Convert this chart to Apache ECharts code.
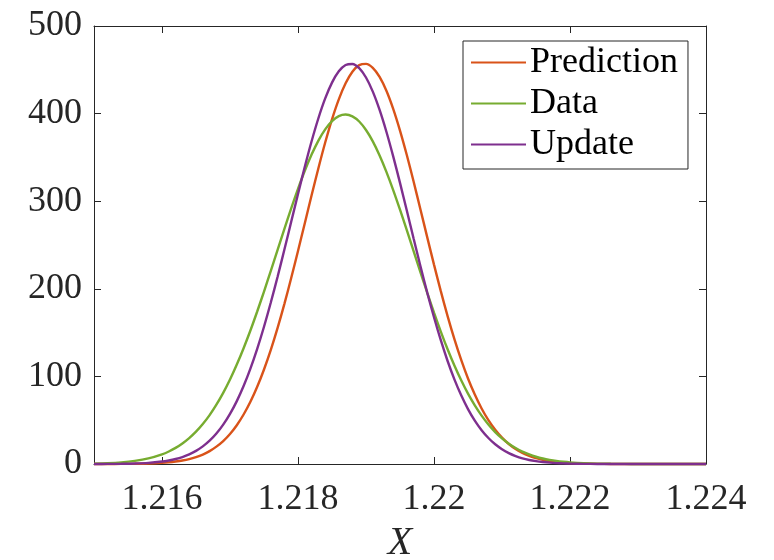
<!DOCTYPE html>
<html>
<head>
<meta charset="utf-8">
<script src="https://cdn.jsdelivr.net/npm/echarts@6/dist/echarts.min.js"></script>
<style>html,body{margin:0;padding:0;background:#fff;}#c{width:774px;height:560px;}</style>
</head>
<body>
<div id="c"></div>
<script>
const xs = [1.2150,1.2152,1.2154,1.2156,1.2158,
  1.2160,1.2161,1.2162,1.2163,1.2164,1.2165,1.2166,1.2167,1.2168,1.2169,
  1.2170,1.2171,1.2172,1.2173,1.2174,1.2175,1.2176,1.2177,1.2178,1.2179,
  1.2180,1.2181,1.2182,1.2183,1.2184,1.2185,1.2186,1.2187,1.2188,1.2189,
  1.2190,1.2191,1.2192,1.2193,1.2194,1.2195,1.2196,1.2197,1.2198,1.2199,
  1.2200,1.2201,1.2202,1.2203,1.2204,1.2205,1.2206,1.2207,1.2208,1.2209,
  1.2210,1.2211,1.2212,1.2213,1.2214,1.2215,1.2216,1.2217,1.2218,1.2219,
  1.2220,1.2222,1.2224,1.2226,1.2228,1.2230,1.2232,1.2234,1.2236,1.2238,1.2240];
const prediction = [0.01,0.04,0.1,0.24,0.57,
  1.3,1.9,2.8,3.96,5.6,7.85,10.8,14.7,19.8,26.2,
  34.3,44.3,56.5,71.0,88.1,107.9,130.3,155.4,182.8,212.3,
  243.2,274.9,306.8,337.7,367.0,393.5,416.3,434.6,447.8,455.3,
  456.8,452.3,441.9,426.1,405.4,380.6,352.7,322.4,290.9,259.0,
  227.6,197.3,168.8,142.5,118.8,97.6,79.3,63.4,50.1,39.1,
  30.1,22.8,17.1,12.6,9.2,6.6,4.7,3.3,2.3,1.56,
  1.05,0.46,0.19,0.07,0.03,0.01,0,0,0,0,0];
const dataVals = [0.47,0.96,1.88,3.53,6.36,
  11.05,14.3,18.4,23.5,29.6,36.9,45.6,55.8,67.7,81.2,
  96.4,113.5,132.2,152.4,174.1,196.9,220.4,244.4,268.3,291.7,
  314.0,334.7,353.2,369.2,382.0,391.5,397.2,399.0,396.9,391.0,
  381.3,368.3,352.2,333.5,312.7,290.3,266.9,243.0,219.0,195.5,
  172.8,151.2,131.0,112.4,95.5,80.3,66.9,55.2,45.1,36.4,
  29.2,23.1,18.2,14.1,10.9,8.3,6.26,4.7,3.46,2.54,
  1.84,0.94,0.46,0.22,0.10,0.04,0.02,0.01,0,0,0];
const update = [0.04,0.1,0.24,0.58,1.3,
  2.8,4.03,5.7,7.97,11.0,15.0,20.1,26.6,34.8,44.9,
  57.2,71.8,89.0,108.9,131.5,156.7,184.3,213.8,244.8,276.5,
  308.3,339.3,368.4,394.7,417.3,435.4,448.3,455.5,456.7,451.9,
  441.2,425.1,404.2,379.3,351.2,320.9,289.3,257.4,226.0,195.8,
  167.5,141.3,117.6,96.6,78.4,62.7,49.5,38.6,29.7,22.5,
  16.9,12.4,9.1,6.5,4.6,3.25,2.25,1.53,1.03,0.69,
  0.45,0.19,0.07,0.03,0.01,0,0,0,0,0,0];
const xTicks = [1.216,1.218,1.22,1.222,1.224];
const seriesNames = ['Prediction','Data','Update'];

const axisColor = '#262626';
const font = 'Liberation Serif';
const pairs = arr => xs.map((x,i)=>[x,arr[i]]);

const chart = echarts.init(document.getElementById('c'), null, {renderer:'canvas'});
const xBase = {
  type:'value', min:1.215, max:1.224,
  axisLine:{show:true, onZero:false, lineStyle:{color:axisColor, width:1}},
  splitLine:{show:false},
  axisTick:{show:true, inside:true, length:7, customValues:xTicks, lineStyle:{color:axisColor}},
};
const yBase = {
  type:'value', min:0, max:500, interval:100,
  axisLine:{show:true, onZero:false, lineStyle:{color:axisColor, width:1}},
  splitLine:{show:false},
  axisTick:{show:true, inside:true, length:7, lineStyle:{color:axisColor}},
};
chart.setOption({
  animation:false,
  backgroundColor:'#fff',
  grid:{left:94, right:68, top:26, bottom:96, containLabel:false, outerBoundsMode:'none'},
  xAxis:[
    Object.assign({}, xBase, {
      position:'bottom',
      axisLabel:{show:true, customValues:xTicks, margin:18, color:axisColor, fontFamily:font, fontSize:36,
        formatter:v=>String(+v.toFixed(3))},
      name:'X', nameLocation:'middle', nameGap:59,
      nameTextStyle:{color:axisColor, fontFamily:font, fontSize:40, fontStyle:'italic'}
    }),
    Object.assign({}, xBase, {position:'top', axisLabel:{show:false}})
  ],
  yAxis:[
    Object.assign({}, yBase, {
      position:'left',
      axisLabel:{show:true, margin:12, color:axisColor, fontFamily:font, fontSize:36}
    }),
    Object.assign({}, yBase, {position:'right', axisLabel:{show:false}})
  ],
  legend:{
    data:seriesNames, orient:'vertical', left:463, top:41,
    padding:[1,10,4,8], itemGap:0, itemWidth:55, itemHeight:2, icon:'rect',
    backgroundColor:'#fff', borderColor:axisColor, borderWidth:1, borderRadius:0,
    textStyle:{color:'#000', fontFamily:font, fontSize:36, lineHeight:41, padding:[0,0,0,-1]}
  },
  series:[
    {name:'Prediction', type:'line', data:pairs(prediction), smooth:0.3, showSymbol:false, clip:false,
      lineStyle:{color:'#D95319', width:2.4}, itemStyle:{color:'#D95319'}},
    {name:'Data', type:'line', data:pairs(dataVals), smooth:0.3, showSymbol:false, clip:false,
      lineStyle:{color:'#77AC30', width:2.4}, itemStyle:{color:'#77AC30'}},
    {name:'Update', type:'line', data:pairs(update), smooth:0.3, showSymbol:false, clip:false,
      lineStyle:{color:'#7E2F8E', width:2.4}, itemStyle:{color:'#7E2F8E'}}
  ]
});
</script>
</body>
</html>
